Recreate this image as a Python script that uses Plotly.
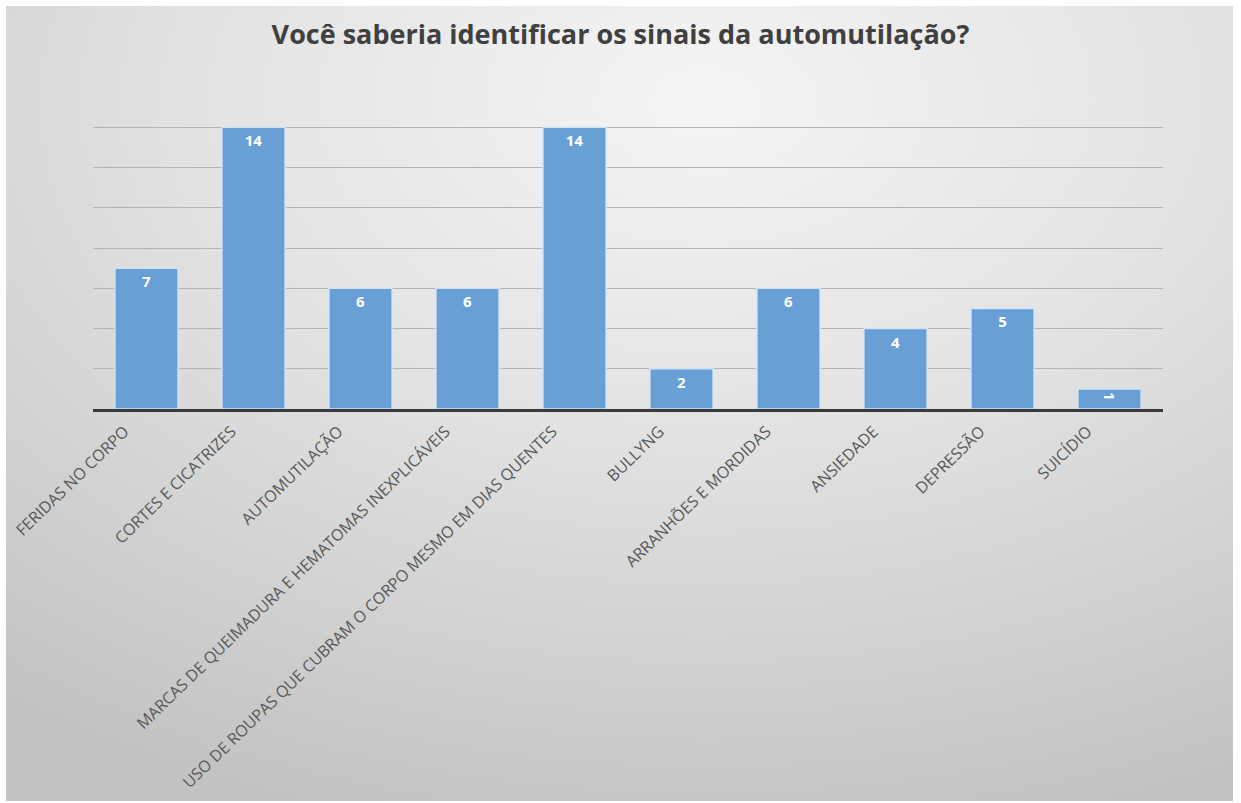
import base64
import plotly.graph_objects as go

categories = [
    "FERIDAS NO CORPO",
    "CORTES E CICATRIZES",
    "AUTOMUTILAÇÃO",
    "MARCAS DE QUEIMADURA E HEMATOMAS INEXPLICÁVEIS",
    "USO DE ROUPAS QUE CUBRAM O CORPO MESMO EM DIAS QUENTES",
    "BULLYNG",
    "ARRANHÕES E MORDIDAS",
    "ANSIEDADE",
    "DEPRESSÃO",
    "SUICÍDIO",
]
values = [7, 14, 6, 6, 14, 2, 6, 4, 5, 1]
title_text = "Você saberia identificar os sinais da automutilação?"

W, H = 1241, 803
ML, MR, MT, MB = 93, 78, 87, 394
pw, ph = W - ML - MR, H - MT - MB

# background radial gradient as an SVG image
svg = (
    '<svg xmlns="http://www.w3.org/2000/svg" width="1227" height="795" viewBox="0 0 1227 795" preserveAspectRatio="none">'
    '<defs><radialGradient id="g" cx="0.57" cy="0.12" r="0.95" gradientUnits="objectBoundingBox">'
    '<stop offset="0" stop-color="#f5f5f5"/><stop offset="0.45" stop-color="#e2e2e2"/>'
    '<stop offset="1" stop-color="#c2c2c2"/></radialGradient></defs>'
    '<rect x="0" y="0" width="1227" height="795" fill="url(#g)"/></svg>'
)
src = "data:image/svg+xml;base64," + base64.b64encode(svg.encode()).decode()

fig = go.Figure()
fig.add_trace(go.Bar(
    x=categories,
    y=values,
    text=[str(v) for v in values],
    textposition="inside",
    insidetextanchor="end",
    constraintext="none",
    textfont=dict(family="Open Sans", size=15, color="white", weight="bold"),
    marker=dict(color="#68a0d6", line=dict(color="rgba(215,232,250,0.9)", width=1.5)),
    width=0.59,
    hoverinfo="x+y",
))

fig.update_layout(
    width=W, height=H,
    margin=dict(l=ML, r=MR, t=MT, b=MB, pad=0, autoexpand=False),
    paper_bgcolor="white",
    plot_bgcolor="rgba(0,0,0,0)",
    showlegend=False,
    title=dict(
        text=title_text, x=0.5, xanchor="center", y=1 - 35 / H, yanchor="middle",
        font=dict(family="Open Sans", size=27, color="#404040", weight="bold"),
    ),
    images=[dict(
        source=src, xref="paper", yref="paper",
        x=(6 - ML) / pw, y=(H - MB - 6) / ph,
        sizex=1227 / pw, sizey=795 / ph,
        xanchor="left", yanchor="top", sizing="stretch", layer="below",
    )],
    xaxis=dict(
        tickangle=-44, showline=True, linecolor="#3a3a3a", linewidth=3,
        ticks="", showgrid=False, ticklabelshift=-22, ticklabelstandoff=4,
        automargin=False,
        tickfont=dict(family="Open Sans", size=16, color="#595959"),
    ),
    yaxis=dict(
        range=[0, 16], dtick=2, showticklabels=False, showgrid=True,
        gridcolor="#b4b4b4", gridwidth=1, zeroline=False, showline=False,
        automargin=False,
    ),
)

fig.write_html(
    "out.html",
    config={"displayModeBar": False},
    post_script="document.body.style.margin='0';document.body.style.overflow='hidden';",
)
